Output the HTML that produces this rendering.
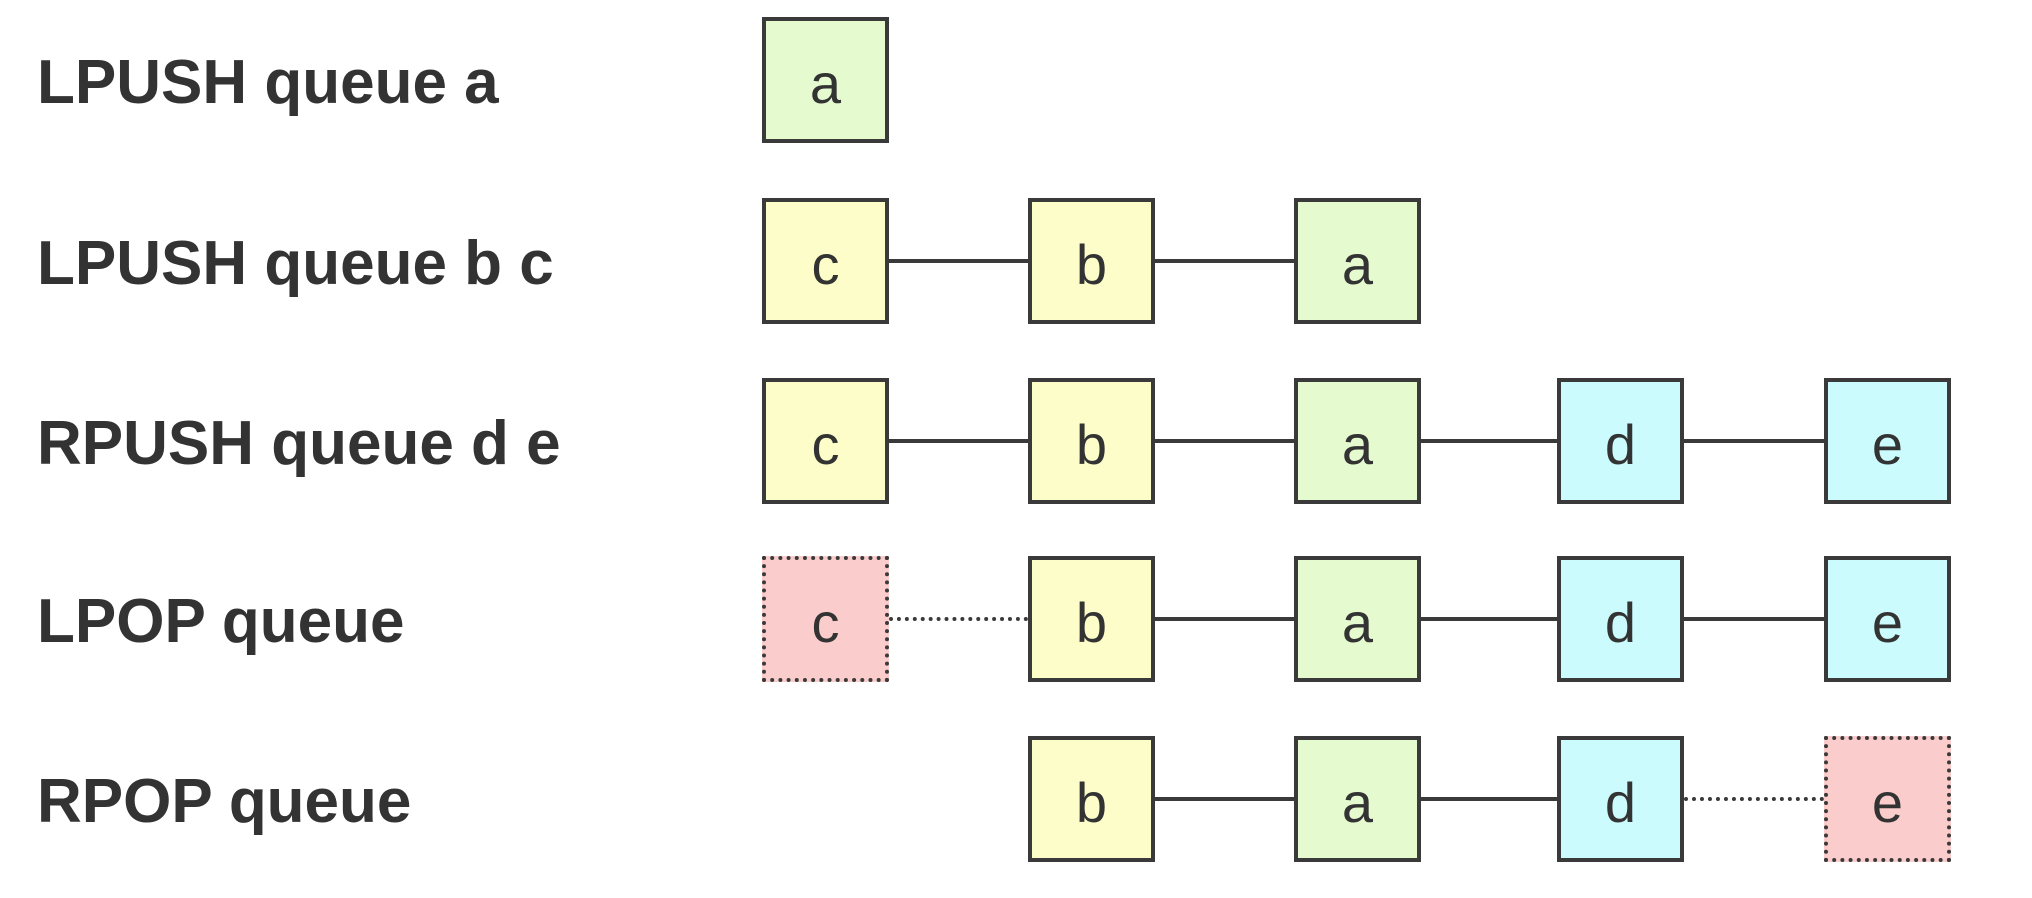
<!DOCTYPE html>
<html><head><meta charset="utf-8"><style>
body{margin:0;width:2032px;height:898px;background:#fff;position:relative;overflow:hidden;font-family:"Liberation Sans",sans-serif}
.l{position:absolute;left:37px;font-weight:bold;font-size:62px;color:#333;line-height:62px;white-space:nowrap}
.b{position:absolute;width:119px;height:118px;border:4px solid #3a3a3a;font-size:56px;color:#333;text-align:center;line-height:126px}
.d{border-style:dotted}
.g{background:#e5fbcf}.y{background:#fdfdc9}.c{background:#ccfbfd}.p{background:#fbcccc}
.h{position:absolute;height:4px;background:#3a3a3a}
.hd{position:absolute;height:0;border-top:4px dotted #3a3a3a}
</style></head><body>
<div class="l" style="top:52px">LPUSH queue a</div>
<div class="l" style="top:233px">LPUSH queue b c</div>
<div class="l" style="top:413px">RPUSH queue d e</div>
<div class="l" style="top:591px">LPOP queue</div>
<div class="l" style="top:771px">RPOP queue</div>

<div class="b g" style="left:762px;top:17px">a</div>

<div class="b y" style="left:762px;top:198px">c</div>
<div class="b y" style="left:1028px;top:198px">b</div>
<div class="b g" style="left:1294px;top:198px">a</div>
<div class="h" style="left:889px;width:139px;top:259px"></div>
<div class="h" style="left:1155px;width:139px;top:259px"></div>

<div class="b y" style="left:762px;top:378px">c</div>
<div class="b y" style="left:1028px;top:378px">b</div>
<div class="b g" style="left:1294px;top:378px">a</div>
<div class="b c" style="left:1557px;top:378px">d</div>
<div class="b c" style="left:1824px;top:378px">e</div>
<div class="h" style="left:889px;width:139px;top:439px"></div>
<div class="h" style="left:1155px;width:139px;top:439px"></div>
<div class="h" style="left:1421px;width:136px;top:439px"></div>
<div class="h" style="left:1684px;width:140px;top:439px"></div>

<div class="b p d" style="left:762px;top:556px">c</div>
<div class="b y" style="left:1028px;top:556px">b</div>
<div class="b g" style="left:1294px;top:556px">a</div>
<div class="b c" style="left:1557px;top:556px">d</div>
<div class="b c" style="left:1824px;top:556px">e</div>
<div class="hd" style="left:889px;width:139px;top:617px"></div>
<div class="h" style="left:1155px;width:139px;top:617px"></div>
<div class="h" style="left:1421px;width:136px;top:617px"></div>
<div class="h" style="left:1684px;width:140px;top:617px"></div>

<div class="b y" style="left:1028px;top:736px">b</div>
<div class="b g" style="left:1294px;top:736px">a</div>
<div class="b c" style="left:1557px;top:736px">d</div>
<div class="b p d" style="left:1824px;top:736px">e</div>
<div class="h" style="left:1155px;width:139px;top:797px"></div>
<div class="h" style="left:1421px;width:136px;top:797px"></div>
<div class="hd" style="left:1684px;width:140px;top:797px"></div>
</body></html>
